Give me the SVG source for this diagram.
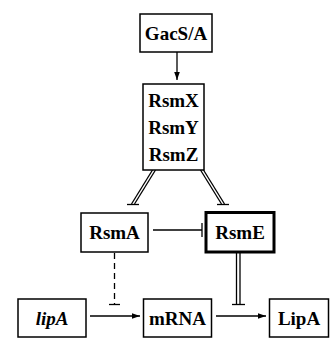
<svg xmlns="http://www.w3.org/2000/svg" width="330" height="339" viewBox="0 0 330 339">
  <defs>
    <style>
      .box { fill: #fff; stroke: #000; stroke-width: 1.5; }
      .thick { stroke-width: 3; }
      .lbl { font-family: "Liberation Serif", "Times New Roman", serif; font-weight: bold; font-size: 19px; text-anchor: middle; fill: #000; }
      .ln { stroke: #000; stroke-width: 1.3; fill: none; }
      .dash { stroke-dasharray: 6 4; }
    </style>
    <marker id="arrow" viewBox="0 0 10 10" refX="10" refY="5" markerWidth="8" markerHeight="8" markerUnits="userSpaceOnUse" orient="auto">
      <path d="M0,1.5 L10,5 L0,8.5 z" fill="#000"/>
    </marker>
  </defs>
  <rect width="330" height="339" fill="#fff"/>

  <g id="connectors">
    <!-- GacS/A activates Rsm sRNAs -->
    <line class="ln" x1="177" y1="52" x2="177" y2="80" marker-end="url(#arrow)"/>
    <!-- sRNAs sequester RsmA (double line, bar end) -->
    <line class="ln" x1="152.5" y1="170" x2="131.5" y2="204"/>
    <line class="ln" x1="155.5" y1="170" x2="134.5" y2="204"/>
    <line class="ln" x1="127" y1="204.5" x2="139" y2="204.5"/>
    <!-- sRNAs sequester RsmE -->
    <line class="ln" x1="200.5" y1="170" x2="221.5" y2="204"/>
    <line class="ln" x1="203.5" y1="170" x2="224.5" y2="204"/>
    <line class="ln" x1="217" y1="204.5" x2="229" y2="204.5"/>
    <!-- RsmA represses RsmE -->
    <line class="ln" x1="153" y1="230" x2="202" y2="230"/>
    <line class="ln" x1="202" y1="223" x2="202" y2="237"/>
    <!-- RsmA dashed repression -->
    <line class="ln dash" x1="114.5" y1="253" x2="114.5" y2="304"/>
    <line class="ln" x1="109" y1="304.5" x2="120" y2="304.5"/>
    <!-- RsmE repression (double line) -->
    <line class="ln" x1="236.5" y1="253" x2="236.5" y2="304"/>
    <line class="ln" x1="240" y1="253" x2="240" y2="304"/>
    <line class="ln" x1="232" y1="304.5" x2="245" y2="304.5"/>
    <!-- lipA -> mRNA -> LipA -->
    <line class="ln" x1="90" y1="316" x2="140" y2="316" marker-end="url(#arrow)"/>
    <line class="ln" x1="216" y1="316" x2="266" y2="316" marker-end="url(#arrow)"/>
  </g>

  <g id="gacsa">
    <rect class="box" x="140" y="14" width="72" height="38"/>
    <text class="lbl" x="176" y="40">GacS/A</text>
  </g>
  <g id="rsmxyz">
    <rect class="box" x="143" y="84" width="61" height="86"/>
    <text class="lbl" x="173.5" y="107">RsmX</text>
    <text class="lbl" x="173.5" y="134">RsmY</text>
    <text class="lbl" x="173.5" y="161">RsmZ</text>
  </g>
  <g id="rsma">
    <rect class="box" x="81" y="213" width="67" height="39"/>
    <text class="lbl" x="114.5" y="239">RsmA</text>
  </g>
  <g id="rsme">
    <rect class="box thick" x="206" y="212.5" width="68" height="39.5"/>
    <text class="lbl" x="240" y="239">RsmE</text>
  </g>
  <g id="lipa-gene">
    <rect class="box" x="18" y="299" width="68" height="38"/>
    <text class="lbl" x="52" y="325" font-style="italic">lipA</text>
  </g>
  <g id="mrna">
    <rect class="box" x="143.5" y="299" width="68" height="38"/>
    <text class="lbl" x="177.5" y="325">mRNA</text>
  </g>
  <g id="lipa-protein">
    <rect class="box" x="269.5" y="299" width="59" height="38"/>
    <text class="lbl" x="299" y="325">LipA</text>
  </g>
</svg>
